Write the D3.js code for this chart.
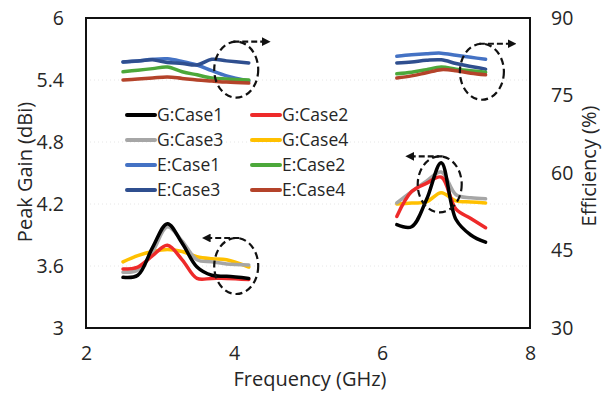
<!DOCTYPE html>
<html>
<head>
<meta charset="utf-8">
<script src="https://cdn.jsdelivr.net/npm/d3@7"></script>
<style>
  body { margin: 0; background: #fff; }
  svg text { font-family: "Open Sans", Lato, sans-serif; fill: #262626; }
</style>
</head>
<body>
<div id="chart"></div>
<script>
var width = 606, height = 393;
var margin = {top: 18, right: 76, bottom: 65, left: 86};

// frequencies (GHz) for the two bands
var freqLow  = [2.5, 2.7, 2.9, 3.1, 3.3, 3.5, 3.7, 3.9, 4.2];
var freqHigh = [6.2, 6.4, 6.6, 6.8, 7.0, 7.2, 7.4];

// Peak gain (dBi), low band
var gLow1 = [3.49, 3.51, 3.78, 4.01, 3.82, 3.59, 3.51, 3.50, 3.48];
var gLow2 = [3.57, 3.59, 3.70, 3.80, 3.66, 3.48, 3.48, 3.48, 3.47];
var gLow3 = [3.54, 3.56, 3.74, 3.98, 3.84, 3.66, 3.64, 3.62, 3.61];
var gLow4 = [3.64, 3.70, 3.74, 3.76, 3.74, 3.69, 3.67, 3.66, 3.59];
// Peak gain (dBi), high band
var gHigh1 = [4.00, 3.98, 4.24, 4.60, 4.05, 3.90, 3.83];
var gHigh2 = [4.08, 4.32, 4.40, 4.46, 4.15, 4.06, 3.97];
var gHigh3 = [4.21, 4.32, 4.42, 4.51, 4.29, 4.26, 4.25];
var gHigh4 = [4.20, 4.21, 4.22, 4.31, 4.23, 4.22, 4.21];

// Efficiency (%), low band
var eLow1 = [81.5, 81.7, 82.0, 82.1, 81.6, 80.9, 79.8, 78.8, 77.8];
var eLow2 = [79.6, 79.9, 80.2, 80.5, 79.6, 79.0, 78.4, 78.2, 78.0];
var eLow3 = [81.5, 81.7, 81.9, 81.4, 81.2, 80.9, 82.0, 81.7, 81.3];
var eLow4 = [78.0, 78.2, 78.4, 78.6, 78.3, 78.0, 77.8, 77.6, 77.4];
// Efficiency (%), high band
var eHigh1 = [82.6, 82.9, 83.1, 83.2, 82.8, 82.4, 82.0];
var eHigh2 = [79.2, 79.5, 80.0, 80.5, 80.1, 79.8, 79.5];
var eHigh3 = [81.3, 81.5, 81.8, 81.9, 81.2, 80.6, 80.1];
var eHigh4 = [78.4, 78.8, 79.4, 80.0, 79.8, 79.3, 79.0];

var gainTicks = [3, 3.6, 4.2, 4.8, 5.4, 6];
var effTicks = [30, 45, 60, 75, 90];
var freqTicks = [2, 4, 6, 8];

var legendNames = ["G:Case1", "G:Case2", "G:Case3", "G:Case4",
                   "E:Case1", "E:Case2", "E:Case3", "E:Case4"];
var colors = ["#000000", "#EE2A2A", "#A6A6A6", "#FFC000",
              "#4472C4", "#4CA83A", "#2F4F8F", "#B4432A"];

var series = [
  {name: "G:Case1", axis: "g", low: gLow1, high: gHigh1},
  {name: "G:Case2", axis: "g", low: gLow2, high: gHigh2},
  {name: "G:Case3", axis: "g", low: gLow3, high: gHigh3},
  {name: "G:Case4", axis: "g", low: gLow4, high: gHigh4},
  {name: "E:Case4", axis: "e", low: eLow4, high: eHigh4},
  {name: "E:Case2", axis: "e", low: eLow2, high: eHigh2},
  {name: "E:Case3", axis: "e", low: eLow3, high: eHigh3},
  {name: "E:Case1", axis: "e", low: eLow1, high: eHigh1}
];

var svg = d3.select("#chart").append("svg")
    .attr("width", width)
    .attr("height", height);

var x = d3.scaleLinear().domain([2, 8]).range([margin.left, width - margin.right]);
var yG = d3.scaleLinear().domain([3, 6]).range([height - margin.bottom, margin.top]);
var yE = d3.scaleLinear().domain([30, 90]).range([height - margin.bottom, margin.top]);

// faint grid
svg.append("g").selectAll("line")
    .data(gainTicks.slice(1, -1)).enter()
    .append("line")
    .attr("x1", x(2)).attr("x2", x(8))
    .attr("y1", d => yG(d)).attr("y2", d => yG(d))
    .attr("stroke", "#e6e6e6")
    .attr("stroke-dasharray", "1,3");

// axes
var axL = svg.append("g").attr("transform", "translate(" + x(2) + ",0)")
    .call(d3.axisLeft(yG).tickValues(gainTicks).tickFormat(d3.format("")).tickSize(0).tickPadding(22));
var axR = svg.append("g").attr("transform", "translate(" + x(8) + ",0)")
    .call(d3.axisRight(yE).tickValues(effTicks).tickSize(0).tickPadding(21));
var axB = svg.append("g").attr("transform", "translate(0," + yG(3) + ")")
    .call(d3.axisBottom(x).tickValues(freqTicks).tickFormat(d3.format("d")).tickSize(0).tickPadding(18));
[axL, axR, axB].forEach(function(a) {
  a.select(".domain").remove();
  a.selectAll("text").style("font-size", "19.5px").attr("fill", "#262626");
});

// frame
svg.append("rect")
    .attr("x", x(2)).attr("y", yG(6))
    .attr("width", x(8) - x(2)).attr("height", yG(3) - yG(6))
    .attr("fill", "none").attr("stroke", "#111").attr("stroke-width", 2);

// lines
function lineFor(s, freqs) {
  var yy = s.axis === "g" ? yG : yE;
  return d3.line().curve(d3.curveCatmullRom.alpha(0.5))
    .x((d, i) => x(freqs[i])).y(d => yy(d));
}
var gLines = svg.append("g");
series.slice().reverse().forEach(function(s) {
  var c = colors[legendNames.indexOf(s.name)];
  gLines.append("path").datum(s.low)
    .attr("d", lineFor(s, freqLow))
    .attr("fill", "none").attr("stroke", c).attr("stroke-width", 3.5)
    .attr("stroke-linejoin", "round").attr("stroke-linecap", "round");
  gLines.append("path").datum(s.high)
    .attr("d", lineFor(s, freqHigh))
    .attr("fill", "none").attr("stroke", c).attr("stroke-width", 3.5)
    .attr("stroke-linejoin", "round").attr("stroke-linecap", "round");
});

// dashed ellipses with arrows (axis pointers)
var notes = [
  {f: 4.03, v: 5.5, dir: 1},
  {f: 7.35, v: 5.48, dir: 1},
  {f: 4.03, v: 3.6, dir: -1},
  {f: 6.78, v: 4.39, dir: -1}
];
svg.append("defs").append("marker")
    .attr("id", "arr").attr("viewBox", "0 0 10 10")
    .attr("refX", 5).attr("refY", 5)
    .attr("markerWidth", 4).attr("markerHeight", 4)
    .attr("orient", "auto")
    .append("path").attr("d", "M0,0L10,5L0,10z").attr("fill", "#111");
var gn = svg.append("g");
notes.forEach(function(n) {
  var cx = x(n.f), cy = yG(n.v);
  gn.append("ellipse")
    .attr("cx", cx).attr("cy", cy).attr("rx", 22).attr("ry", 28)
    .attr("fill", "none").attr("stroke", "#111").attr("stroke-width", 2.2)
    .attr("stroke-dasharray", "7,4");
  gn.append("line")
    .attr("x1", cx - n.dir * 3).attr("y1", cy - 28)
    .attr("x2", cx + n.dir * 30).attr("y2", cy - 28)
    .attr("stroke", "#111").attr("stroke-width", 2.2)
    .attr("stroke-dasharray", "6,3")
    .attr("marker-end", "url(#arr)");
});

// legend
var leg = svg.append("g");
legendNames.forEach(function(name, i) {
  var col = i % 2, row = Math.floor(i / 2);
  var lx = 127 + col * 125, ly = 115 + row * 25;
  leg.append("line")
    .attr("x1", lx).attr("x2", lx + 28).attr("y1", ly).attr("y2", ly)
    .attr("stroke", colors[i]).attr("stroke-width", 4).attr("stroke-linecap", "round");
  leg.append("text")
    .attr("x", lx + 30).attr("y", ly + 6)
    .style("font-size", "17.5px").text(name);
});

// axis titles
svg.append("text")
    .attr("transform", "translate(32,172) rotate(-90)")
    .attr("text-anchor", "middle").style("font-size", "20px")
    .text("Peak Gain (dBi)");
svg.append("text")
    .attr("transform", "translate(596,166) rotate(-90)")
    .attr("text-anchor", "middle").style("font-size", "20px")
    .text("Efficiency (%)");
svg.append("text")
    .attr("x", 310).attr("y", 386)
    .attr("text-anchor", "middle").style("font-size", "20px")
    .text("Frequency (GHz)");
</script>
</body>
</html>
